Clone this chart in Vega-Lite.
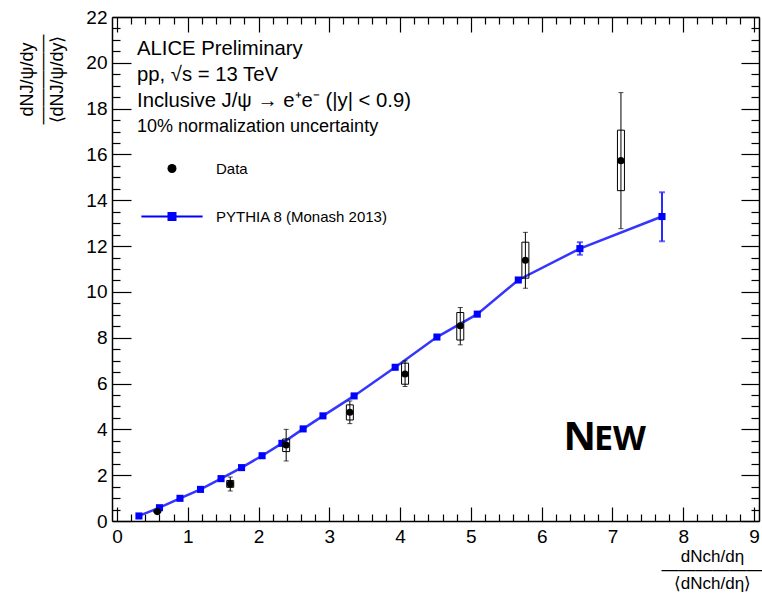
{
  "$schema": "https://vega.github.io/schema/vega-lite/v6.json",
  "width": 647,
  "height": 504,
  "autosize": "none",
  "padding": {"left": 112, "top": 17, "right": 3, "bottom": 77},
  "background": "white",
  "datasets": {
    "data": [
      {"series": "Data", "x": 0.57, "y": 0.41, "statlo": 0.35, "stathi": 0.47, "syslo": 0.37, "syshi": 0.45},
      {"series": "Data", "x": 1.6, "y": 1.62, "statlo": 1.31, "stathi": 1.92, "syslo": 1.47, "syshi": 1.77},
      {"series": "Data", "x": 2.39, "y": 3.32, "statlo": 2.62, "stathi": 4.0, "syslo": 3.03, "syshi": 3.58},
      {"series": "Data", "x": 3.29, "y": 4.75, "statlo": 4.25, "stathi": 5.24, "syslo": 4.41, "syshi": 5.07},
      {"series": "Data", "x": 4.07, "y": 6.42, "statlo": 5.87, "stathi": 6.99, "syslo": 5.97, "syshi": 6.89},
      {"series": "Data", "x": 4.85, "y": 8.52, "statlo": 7.69, "stathi": 9.32, "syslo": 7.9, "syshi": 9.1},
      {"series": "Data", "x": 5.77, "y": 11.38, "statlo": 10.16, "stathi": 12.6, "syslo": 10.6, "syshi": 12.17},
      {"series": "Data", "x": 7.12, "y": 15.73, "statlo": 12.76, "stathi": 18.7, "syslo": 14.42, "syshi": 17.06}
    ],
    "pythia": [
      {"x": 0.31, "y": 0.22},
      {"x": 0.6, "y": 0.58},
      {"x": 0.89, "y": 0.99},
      {"x": 1.18, "y": 1.38},
      {"x": 1.47, "y": 1.85},
      {"x": 1.76, "y": 2.33},
      {"x": 2.05, "y": 2.85},
      {"x": 2.33, "y": 3.39},
      {"x": 2.63, "y": 4.02},
      {"x": 2.91, "y": 4.59},
      {"x": 3.35, "y": 5.46},
      {"x": 3.93, "y": 6.71},
      {"x": 4.52, "y": 8.03},
      {"x": 5.09, "y": 9.03},
      {"x": 5.67, "y": 10.52},
      {"x": 6.54, "y": 11.89, "lo": 11.62, "hi": 12.17},
      {"x": 7.7, "y": 13.29, "lo": 12.21, "hi": 14.35}
    ],
    "newN": [{"label": "N"}],
    "newEW": [{"label": "EW"}]
  },
  "title": {
    "text": ["ALICE Preliminary", "pp, √s = 13 TeV", "Inclusive J/ψ → e⁺e⁻ (|y| < 0.9)"],
    "subtitle": "10% normalization uncertainty",
    "anchor": "start",
    "frame": "group",
    "orient": "top",
    "offset": 0,
    "dx": 25,
    "dy": 128,
    "font": "Liberation Sans",
    "fontSize": 20.3,
    "fontWeight": "normal",
    "color": "black",
    "lineHeight": 26,
    "subtitleFont": "Liberation Sans",
    "subtitleFontSize": 18,
    "subtitleColor": "black",
    "subtitlePadding": 7
  },
  "layer": [
    {
      "data": {"name": "pythia"},
      "mark": {"type": "line", "color": "#3535ff", "strokeWidth": 2.5},
      "encoding": {
        "x": {
          "field": "x", "type": "quantitative",
          "scale": {"domain": [0, 9], "nice": false, "zero": false},
          "axis": {
            "orient": "bottom",
            "values": [0,0.2,0.4,0.6,0.8,1,1.2,1.4,1.6,1.8,2,2.2,2.4,2.6,2.8,3,3.2,3.4,3.6,3.8,4,4.2,4.4,4.6,4.8,5,5.2,5.4,5.6,5.8,6,6.2,6.4,6.6,6.8,7,7.2,7.4,7.6,7.8,8,8.2,8.4,8.6,8.8,9],
            "labelExpr": "datum.value % 1 === 0 ? format(datum.value, 'd') : ''",
            "tickSize": {"condition": {"test": "datum.value % 1 === 0", "value": -14}, "value": -7},
            "labelPadding": 20,
            "labelFlush": false,
            "labelFontSize": 19,
            "title": ["dNch/dη", "——————", "⟨dNch/dη⟩"],
            "titleX": 600,
            "titleY": 35,
            "titleAlign": "center",
            "titleBaseline": "middle",
            "titleFontSize": 17,
            "titleLineHeight": 13.5
          }
        },
        "y": {
          "field": "y", "type": "quantitative",
          "scale": {"domain": [0, 22], "nice": false, "zero": false},
          "axis": {
            "orient": "left",
            "values": [0,0.5,1,1.5,2,2.5,3,3.5,4,4.5,5,5.5,6,6.5,7,7.5,8,8.5,9,9.5,10,10.5,11,11.5,12,12.5,13,13.5,14,14.5,15,15.5,16,16.5,17,17.5,18,18.5,19,19.5,20,20.5,21,21.5,22],
            "labelExpr": "datum.value % 2 === 0 ? format(datum.value, 'd') : ''",
            "tickSize": {"condition": {"test": "datum.value % 2 === 0", "value": -19}, "value": -8},
            "labelPadding": 24,
            "labelFlush": false,
            "labelFontSize": 19,
            "title": ["dNJ/ψ/dy", "—————", "⟨dNJ/ψ/dy⟩"],
            "titleX": -85,
            "titleY": 62,
            "titleAngle": -90,
            "titleAlign": "center",
            "titleBaseline": "middle",
            "titleFontSize": 18,
            "titleLineHeight": 15
          }
        }
      }
    },
    {
      "data": {"name": "pythia"},
      "mark": {"type": "point", "opacity": 0},
      "encoding": {
        "x": {
          "field": "x", "type": "quantitative",
          "axis": {
            "orient": "top",
            "values": [0,0.2,0.4,0.6,0.8,1,1.2,1.4,1.6,1.8,2,2.2,2.4,2.6,2.8,3,3.2,3.4,3.6,3.8,4,4.2,4.4,4.6,4.8,5,5.2,5.4,5.6,5.8,6,6.2,6.4,6.6,6.8,7,7.2,7.4,7.6,7.8,8,8.2,8.4,8.6,8.8,9],
            "labels": false,
            "title": null,
            "tickSize": {"condition": {"test": "datum.value % 1 === 0", "value": -15}, "value": -7}
          }
        },
        "y": {
          "field": "y", "type": "quantitative",
          "axis": {
            "orient": "right",
            "values": [0,0.5,1,1.5,2,2.5,3,3.5,4,4.5,5,5.5,6,6.5,7,7.5,8,8.5,9,9.5,10,10.5,11,11.5,12,12.5,13,13.5,14,14.5,15,15.5,16,16.5,17,17.5,18,18.5,19,19.5,20,20.5,21,21.5,22],
            "labels": false,
            "title": null,
            "tickSize": {"condition": {"test": "datum.value % 2 === 0", "value": -18}, "value": -8}
          }
        }
      }
    },
    {
      "data": {"name": "pythia"},
      "transform": [{"filter": "isValid(datum.lo)"}],
      "mark": {"type": "errorbar", "ticks": {"size": 6}, "color": "#2a2aff", "thickness": 2},
      "encoding": {
        "x": {"field": "x", "type": "quantitative", "axis": null},
        "y": {"field": "lo", "type": "quantitative", "axis": null},
        "y2": {"field": "hi"}
      }
    },
    {
      "data": {"name": "pythia"},
      "mark": {"type": "point", "shape": "square", "filled": true, "size": 50, "color": "#0000ff", "opacity": 1},
      "encoding": {
        "x": {"field": "x", "type": "quantitative", "axis": null},
        "y": {"field": "y", "type": "quantitative", "axis": null}
      }
    },
    {
      "data": {"name": "data"},
      "mark": {"type": "bar", "width": 7, "fillOpacity": 0, "stroke": "black", "strokeWidth": 1},
      "encoding": {
        "x": {"field": "x", "type": "quantitative", "axis": null},
        "y": {"field": "syslo", "type": "quantitative", "axis": null},
        "y2": {"field": "syshi"}
      }
    },
    {
      "data": {"name": "data"},
      "mark": {"type": "errorbar", "ticks": {"size": 5}, "color": "black", "thickness": 1},
      "encoding": {
        "x": {"field": "x", "type": "quantitative", "axis": null},
        "y": {"field": "statlo", "type": "quantitative", "axis": null},
        "y2": {"field": "stathi"}
      }
    },
    {
      "data": {"name": "data"},
      "mark": {"type": "point", "filled": true, "size": 50, "opacity": 1},
      "encoding": {
        "x": {"field": "x", "type": "quantitative", "axis": null},
        "y": {"field": "y", "type": "quantitative", "axis": null},
        "color": {
          "field": "series", "type": "nominal",
          "scale": {"domain": ["Data", "PYTHIA 8 (Monash 2013)"], "range": ["black", "#0000ff"]},
          "legend": {"orient": "none", "legendX": 52.5, "legendY": 144, "title": null, "labelLimit": 0}
        },
        "shape": {
          "field": "series", "type": "nominal",
          "scale": {"domain": ["Data", "PYTHIA 8 (Monash 2013)"], "range": ["circle", "M-6.8,-0.22H6.8V0.22H-6.8Z M-1,-1H1V1H-1Z"]},
          "legend": {"orient": "none", "legendX": 52.5, "legendY": 144, "title": null, "labelLimit": 0}
        }
      }
    },
    {
      "data": {"name": "newN"},
      "mark": {"type": "text", "font": "Open Sans", "fontWeight": "bold", "fontSize": 40, "align": "left", "baseline": "alphabetic", "color": "black"},
      "encoding": {
        "x": {"datum": 6.31, "type": "quantitative", "axis": null},
        "y": {"datum": 3.1, "type": "quantitative", "axis": null},
        "text": {"field": "label"}
      }
    },
    {
      "data": {"name": "newEW"},
      "mark": {"type": "text", "font": "Open Sans", "fontWeight": "bold", "fontSize": 34, "align": "left", "baseline": "alphabetic", "color": "black"},
      "encoding": {
        "x": {"datum": 6.74, "type": "quantitative", "axis": null},
        "y": {"datum": 3.1, "type": "quantitative", "axis": null},
        "text": {"field": "label"}
      }
    }
  ],
  "resolve": {"axis": {"x": "independent", "y": "independent"}},
  "config": {
    "view": {"stroke": null},
    "axis": {
      "grid": false,
      "domainColor": "black",
      "domainWidth": 1.5,
      "tickColor": "black",
      "tickWidth": 1.2,
      "labelFont": "Liberation Sans",
      "labelFontSize": 18,
      "labelColor": "black",
      "labelOverlap": false,
      "labelFlush": false,
      "labelBound": false,
      "titleFont": "Liberation Sans",
      "titleFontWeight": "normal",
      "titleColor": "black"
    },
    "legend": {
      "labelFont": "Liberation Sans",
      "labelFontSize": 15,
      "labelColor": "black",
      "symbolSize": 81,
      "symbolStrokeWidth": 0,
      "labelOffset": 36.5,
      "rowPadding": 32,
      "padding": 0
    }
  }
}
